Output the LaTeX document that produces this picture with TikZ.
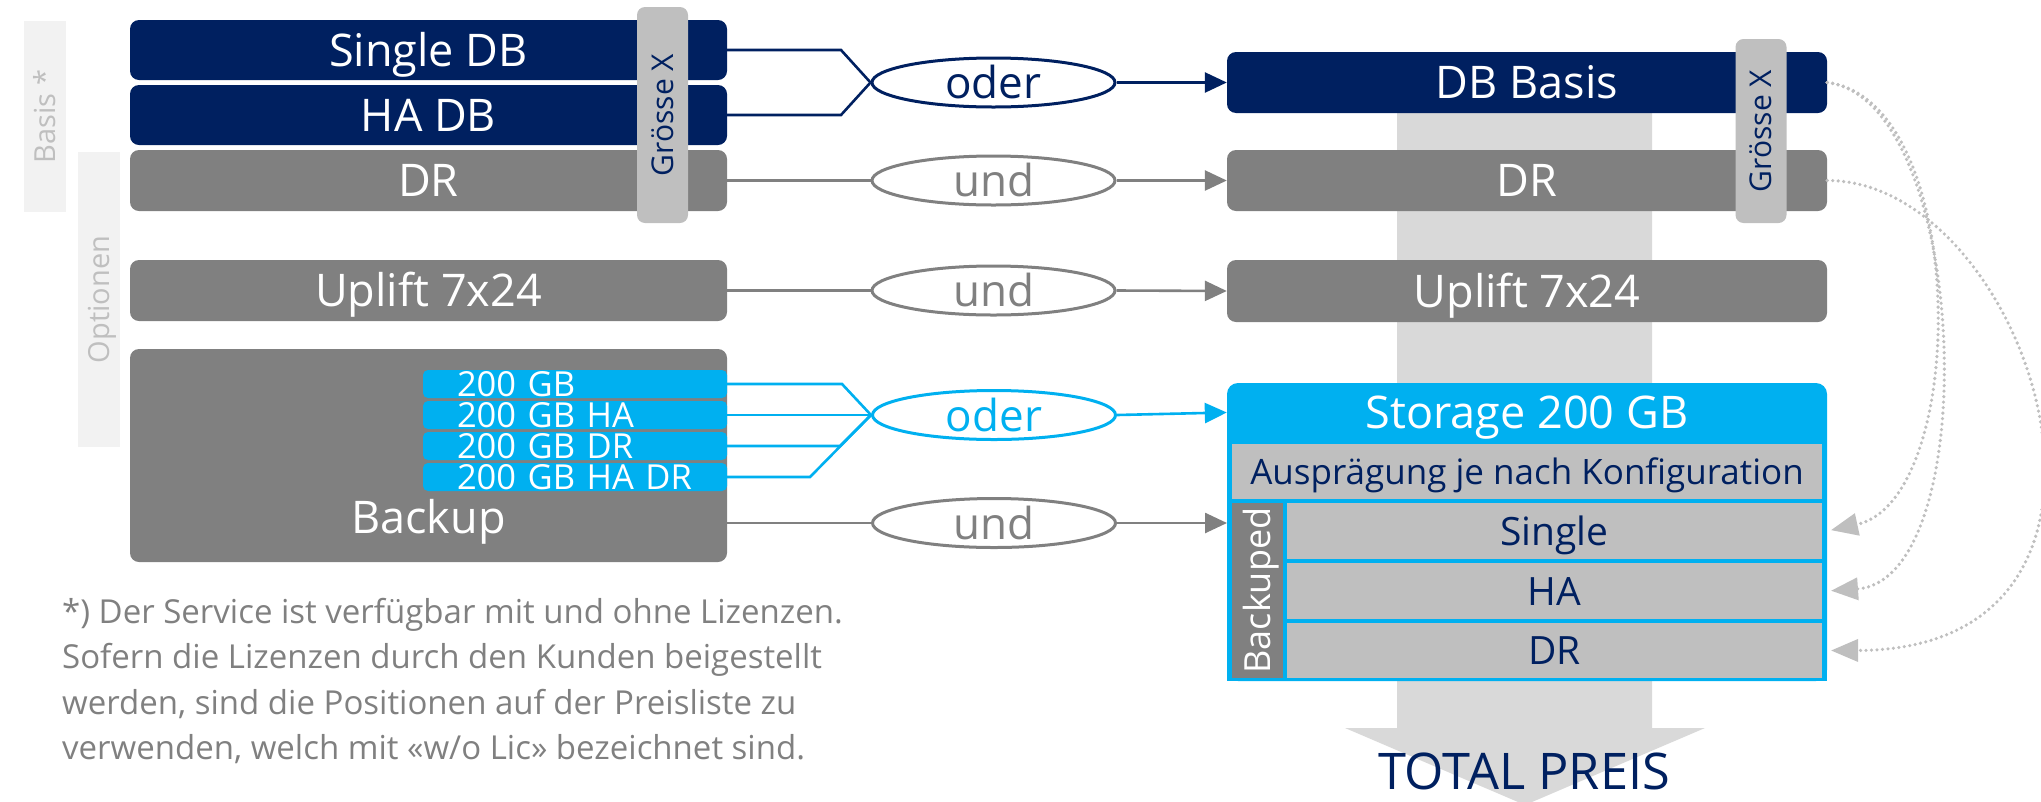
\documentclass[tikz,border=0pt]{standalone}
\usepackage{fontspec}
\setmainfont{Open Sans}
\usetikzlibrary{shapes.geometric,arrows.meta}
\definecolor{navy}{HTML}{002060}
\definecolor{cblue}{HTML}{00B0F0}
\definecolor{dgray}{HTML}{808080}
\definecolor{mgray}{HTML}{BFBFBF}
\definecolor{lgray}{HTML}{D9D9D9}
\definecolor{vlgray}{HTML}{F2F2F2}
\newcommand{\myfs}[1]{\fontsize{#1}{#1}\selectfont}
\begin{document}
\begin{tikzpicture}[x=1pt, y=-1pt,
  tbox/.style={rectangle, rounded corners=9pt, inner sep=0pt, minimum width=597pt, text=white, font=\myfs{45}, text height=32pt, text depth=0pt},
  ovl/.style={ellipse, line width=3pt, fill=white, inner sep=0pt, minimum width=243pt, minimum height=49pt, font=\myfs{44}, text height=32pt, text depth=0pt},
  subbox/.style={rectangle, rounded corners=5pt, fill=cblue, text=white, minimum width=304pt, minimum height=28pt, inner xsep=34pt, inner ysep=0pt, text width=236pt, align=left, font=\myfs{34.5}, text height=24.6pt, text depth=0pt},
  gxbar/.style={rectangle, rounded corners=8pt, fill=mgray, rotate=90, minimum height=51pt, inner sep=0pt, text=navy, font=\myfs{30}, text height=21.5pt, text depth=0pt},
  sidebar/.style={rectangle, fill=vlgray, rotate=90, minimum height=42pt, inner sep=0pt, text=mgray, font=\myfs{29}, text height=21pt, text depth=0pt},
  rowbox/.style={rectangle, fill=mgray, inner sep=0pt, text=navy, font=\myfs{39}, text height=28pt, text depth=0pt},
  conn/.style={line width=2.6pt},
  arr/.style={-{Triangle[length=22pt,width=20pt]}},
  dotc/.style={draw=mgray, line width=3.6pt, line cap=round, dash pattern=on 0pt off 5.5pt, shorten >=4pt, -{Triangle[length=27pt,width=22pt]}}
]
\useasboundingbox (0,0) rectangle (2041,801);

% big background arrow
\fill[lgray] (1397,100) -- (1652,100) -- (1652,728) -- (1705,728) -- (1525,805) -- (1345,728) -- (1397,728) -- cycle;

% side labels
\node[sidebar, minimum width=191pt] (basis) at (45,116.5) {Basis *};
\node[sidebar, minimum width=295pt] (opt) at (99,299.5) {Optionen};

% left boxes
\node[tbox, fill=navy, minimum height=60pt] (sdb) at (428.5,50) {Single DB};
\node[tbox, fill=navy, minimum height=60pt] (hdb) at (428.5,115) {HA DB};
\node[tbox, fill=dgray, minimum height=61pt] (dra) at (428.5,180.5) {DR};
\node[tbox, fill=dgray, minimum height=61pt] (upa) at (428.5,290.5) {Uplift 7x24};
\node[tbox, fill=dgray, minimum height=213pt] (bk) at (428.5,455.5) {};
\node[text=white, font=\myfs{45}, text height=32pt, text depth=0pt, inner sep=0pt] (bkt) at (428.5,517) {Backup};
\node[subbox] (b1) at (575,384) {200 GB};
\node[subbox] (b2) at (575,415) {200 GB HA};
\node[subbox] (b3) at (575,446) {200 GB DR};
\node[subbox] (b4) at (575,477) {200 GB HA DR};
\node[gxbar, minimum width=216pt] (gxa) at (662.5,115) {Grösse X};

% right boxes
\node[tbox, fill=navy, minimum width=600pt, minimum height=61pt] (dbb) at (1527,82.5) {DB Basis};
\node[tbox, fill=dgray, minimum width=600pt, minimum height=61pt] (drb) at (1527,180.5) {DR};
\node[tbox, fill=dgray, minimum width=600pt, minimum height=62pt] (upb) at (1527,291) {Uplift 7x24};
\node[gxbar, minimum width=184pt] (gxb) at (1761,131) {Grösse X};

% storage block
\node[minimum width=600pt, minimum height=298pt, inner sep=0pt, outer sep=0pt] (blk) at (1527,532) {};
\fill[cblue, rounded corners=11pt] (blk.south west) rectangle (blk.north east);
\fill[cblue] (1227,500) rectangle (1827,681);
\node[inner sep=0pt, minimum width=600pt, minimum height=59pt, text=white, font=\myfs{45}, text height=32pt, text depth=0pt] (stor) at (1527,412.5) {Storage 200 GB};
\node[rowbox, minimum width=590pt, minimum height=55pt, font=\myfs{35}, text height=25pt] (aus) at (1527,471.5) {Ausprägung je nach Konfiguration};
\node[rectangle, fill=dgray, rotate=90, minimum width=175pt, minimum height=51pt, inner sep=0pt, text=white, font=\myfs{36}, text height=26pt, text depth=0pt] (bku) at (1257.5,590.5) {Backuped};
\node[rowbox, minimum width=535pt, minimum height=56pt] (rs) at (1554.5,531) {Single};
\node[rowbox, minimum width=535pt, minimum height=56pt] (rh) at (1554.5,591) {HA};
\node[rowbox, minimum width=535pt, minimum height=55pt] (rd) at (1554.5,650.5) {DR};

% ellipses
\node[ovl, draw=navy, text=navy] (o1) at (993.5,82.5) {oder};
\node[ovl, draw=dgray, text=dgray] (u1) at (993.5,180.5) {und};
\node[ovl, draw=dgray, text=dgray] (u2) at (993.5,290.5) {und};
\node[ovl, draw=cblue, text=cblue] (o2) at (994,415) {oder};
\node[ovl, draw=dgray, text=dgray] (u3) at (994,523) {und};

% connectors
\draw[conn, navy] (sdb.east) -- (841,50) -- (o1.west);
\draw[conn, navy] (hdb.east) -- (841,115) -- (o1.west);
\draw[conn, navy, arr] (o1.east) -- (dbb.west);
\draw[conn, dgray] (dra.east) -- (u1.west);
\draw[conn, dgray, arr] (u1.east) -- (drb.west);
\draw[conn, dgray] (upa.east) -- (u2.west);
\draw[conn, dgray, arr] (u2.east) -- (upb.west);
\draw[conn, cblue] (b1.east) -- (842,384) -- (o2.west);
\draw[conn, cblue] (b2.east) -- (o2.west);
\draw[conn, cblue] (b3.east) -- (840,446) -- (o2.west);
\draw[conn, cblue] (b4.east) -- (810,477) -- (o2.west);
\draw[conn, cblue, arr] (o2.east) -- (stor.west);
\draw[conn, dgray] (bk.east |- u3.west) -- (u3.west);
\draw[conn, dgray, arr] (u3.east) -- (u3.east -| blk.west);

% dotted curves
\draw[dotc] (dbb.east) .. controls (1970,100) and (1970,500) .. (rs.east -| blk.east);
\draw[dotc] (dbb.east) .. controls (1970,100) and (1985,580) .. (rh.east -| blk.east);
\draw[dotc] (drb.east) .. controls (2030,180) and (2180,650) .. (rd.east -| blk.east);

% total
\node[text=navy, font=\myfs{50.5}, text height=36pt, text depth=0pt, inner sep=0pt] (tot) at (1524,771) {TOTAL PREIS};

% footnote
\node[font=\fontsize{33}{45.5}\selectfont, text=dgray, align=left, anchor=west, inner sep=0pt] (fn) at (62,681) {*) Der Service ist verfügbar mit und ohne Lizenzen.\\Sofern die Lizenzen durch den Kunden beigestellt\\werden, sind die Positionen auf der Preisliste zu\\verwenden, welch mit «w/o Lic» bezeichnet sind.};
\end{tikzpicture}
\end{document}
